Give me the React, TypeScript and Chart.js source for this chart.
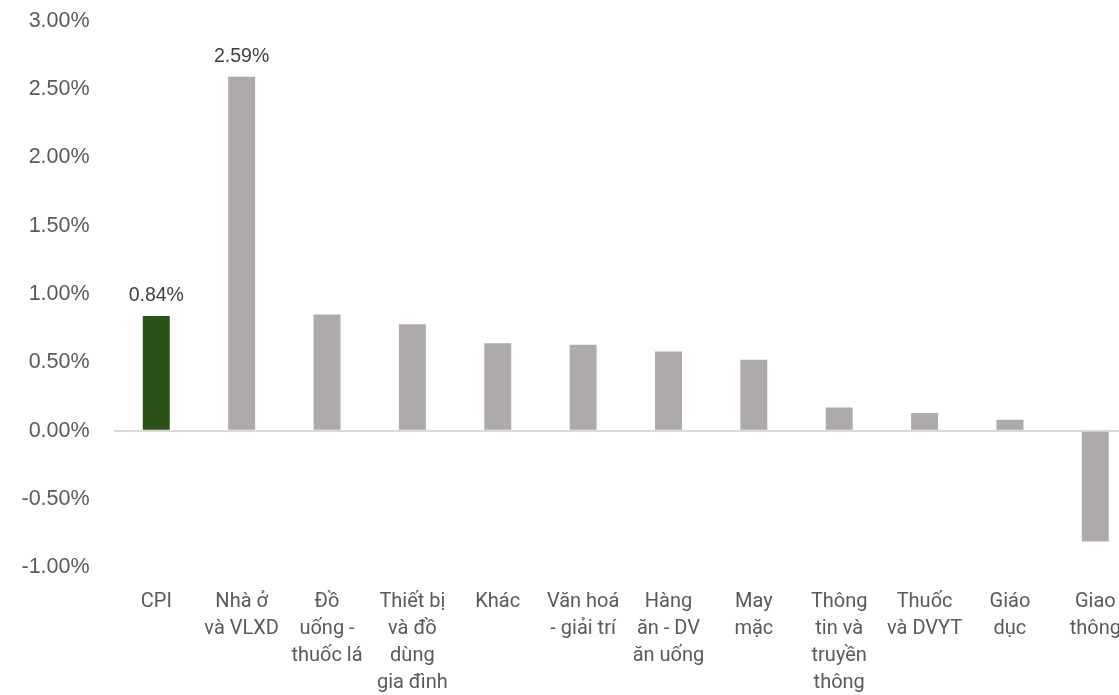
import React, { useEffect, useRef } from "react";
import { Chart, registerables } from "chart.js";

Chart.register(...registerables);

const categories: string[][] = [
  ["CPI"],
  ["Nhà ở", "và VLXD"],
  ["Đồ", "uống -", "thuốc lá"],
  ["Thiết bị", "và đồ", "dùng", "gia đình"],
  ["Khác"],
  ["Văn hoá", "- giải trí"],
  ["Hàng", "ăn - DV", "ăn uống"],
  ["May", "mặc"],
  ["Thông", "tin và", "truyền", "thông"],
  ["Thuốc", "và DVYT"],
  ["Giáo", "dục"],
  ["Giao", "thông"],
];

const values: number[] = [0.84, 2.59, 0.85, 0.78, 0.64, 0.63, 0.58, 0.52, 0.17, 0.13, 0.08, -0.81];

const shownLabels: (string | null)[] = ["0.84%", "2.59%", null, null, null, null, null, null, null, null, null, null];

const barColors: string[] = ["#2a5219", "#aeaaaa", "#aeaaaa", "#aeaaaa", "#aeaaaa", "#aeaaaa", "#aeaaaa", "#aeaaaa", "#aeaaaa", "#aeaaaa", "#aeaaaa", "#aeaaaa"];

const yMin = -1;
const yMax = 3;
const yStep = 0.5;

const W = 1138;
const H = 695;

const labelPlugin = {
  id: "barLabels",
  afterDatasetsDraw(chart: any) {
    const ctx = chart.ctx;
    const meta = chart.getDatasetMeta(0);
    ctx.save();
    ctx.font = '19.5px "Liberation Sans", Arial, sans-serif';
    ctx.fillStyle = "#404040";
    ctx.textAlign = "center";
    ctx.textBaseline = "middle";
    meta.data.forEach((el: any, i: number) => {
      const t = shownLabels[i];
      if (!t) return;
      ctx.fillText(t, el.x, el.y - 20);
    });
    ctx.restore();
  },
};

export default function App() {
  const ref = useRef<HTMLCanvasElement | null>(null);
  useEffect(() => {
    if (!ref.current) return;
    const chart = new Chart(ref.current, {
      type: "bar",
      data: {
        labels: categories,
        datasets: [
          {
            data: values,
            backgroundColor: barColors,
            borderWidth: 0,
            barPercentage: 0.316,
            categoryPercentage: 1,
          },
        ],
      },
      options: {
        responsive: false,
        animation: false,
        layout: { padding: 0 },
        plugins: { legend: { display: false }, tooltip: { enabled: false } },
        scales: {
          x: {
            grid: { display: false },
            border: { display: false },
            ticks: {
              color: "#595959",
              font: { family: "Roboto, 'Noto Sans', sans-serif", size: 20, lineHeight: 1.35 },
              padding: 13,
              maxRotation: 0,
              autoSkip: false,
            },
            afterFit: (scale: any) => {
              scale.height = 127.5;
            },
          },
          y: {
            min: yMin,
            max: yMax,
            border: { display: false },
            grid: {
              drawTicks: false,
              color: (c: any) => (c.tick && c.tick.value === 0 ? "#d9d9d9" : "rgba(0,0,0,0)"),
              lineWidth: 2,
            },
            ticks: {
              stepSize: yStep,
              color: "#595959",
              font: { family: "'Liberation Sans', Arial, sans-serif", size: 21.5 },
              padding: 24,
              callback: (v: any) => Number(v).toFixed(2) + "%",
            },
            afterFit: (scale: any) => {
              scale.width = 113.6;
              scale.paddingTop = 20.6;
              scale.paddingBottom = 0;
            },
          },
        },
      },
      plugins: [labelPlugin],
    });
    return () => chart.destroy();
  }, []);
  return (
    <div style={{ position: "fixed", left: 0, top: 0, width: 1119, height: 695, overflow: "hidden", background: "#fff" }}>
      <canvas ref={ref} width={W} height={H} style={{ display: "block", width: W, height: H }} />
    </div>
  );
}
